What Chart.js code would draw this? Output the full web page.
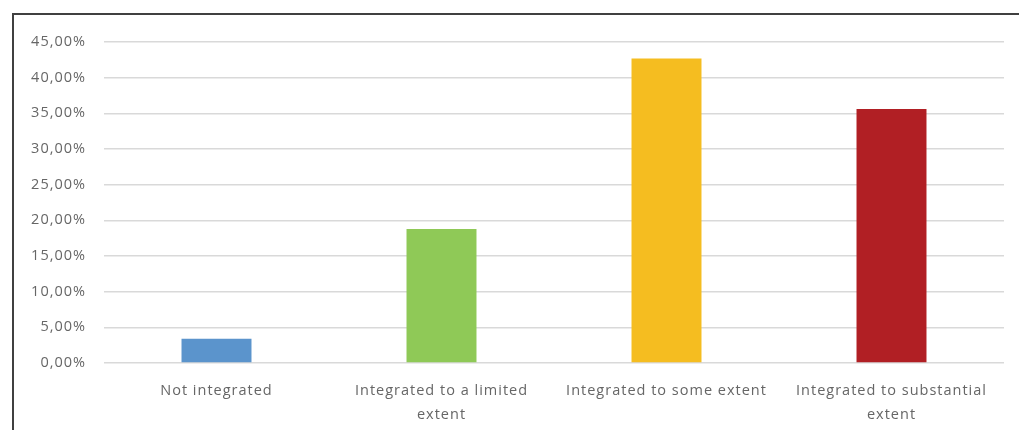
<!DOCTYPE html>
<html><head><meta charset="utf-8">
<script src="https://cdn.jsdelivr.net/npm/chart.js@4"></script>
<style>
html,body{margin:0;padding:0;background:#fff;}
#wrap{position:absolute;left:0;top:0;width:1019px;height:430px;}
#frame{position:absolute;left:12px;top:13px;width:1010px;height:430px;border-left:2px solid #404040;border-top:2px solid #404040;box-sizing:border-box;}
</style></head>
<body>
<div id="frame"></div>
<div id="wrap"><canvas id="c" width="1019" height="430"></canvas></div>
<script>
const categories = ['Not integrated', ['Integrated to a limited', 'extent'], 'Integrated to some extent', ['Integrated to substantial', 'extent']];
const values = [3.4, 18.8, 42.7, 35.6];
const barColors = ['#5B94CC', '#8FC957', '#F5BD20', '#B11F24'];
const yMin = 0, yMax = 45, yStep = 5;

const spacing = {
  id: 'spacing',
  beforeLayout(chart){ chart.ctx.letterSpacing = '1px'; },
  beforeDraw(chart){ chart.ctx.letterSpacing = '1px'; }
};

new Chart(document.getElementById('c'), {
  type: 'bar',
  data: { labels: categories, datasets: [{ data: values, backgroundColor: barColors, barPercentage: 0.311, categoryPercentage: 1 }] },
  options: {
    responsive: false, animation: false,
    layout: { padding: { left: 0, right: 15, top: 42, bottom: 0 } },
    plugins: { legend: { display: false }, tooltip: { enabled: false } },
    scales: {
      x: {
        grid: { display: false, drawTicks: false },
        border: { display: false },
        ticks: { color: '#666', font: { family: 'Open Sans', size: 14.5, lineHeight: 1.65 }, padding: 16, maxRotation: 0, autoSkip: false },
        afterFit(s){ s.height = 67; }
      },
      y: {
        min: yMin, max: yMax,
        grid: { color: '#d9d9d9', lineWidth: 1.5, drawTicks: false },
        border: { display: false },
        ticks: { stepSize: yStep, color: '#666', font: { family: 'Open Sans', size: 14.5 }, padding: 18,
          callback: v => v.toFixed(2).replace('.', ',') + '%' },
        afterFit(s){ s.width = 104; }
      }
    }
  },
  plugins: [spacing]
});
</script>
</body></html>
